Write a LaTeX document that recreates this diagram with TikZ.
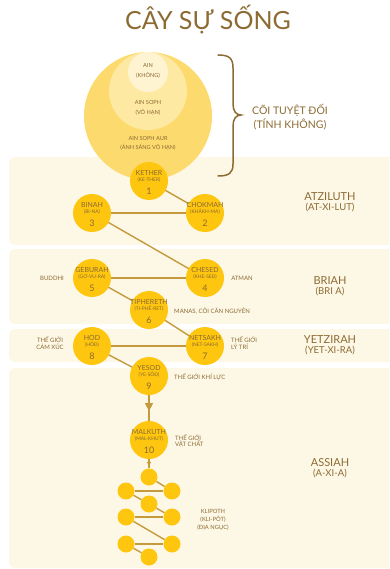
\documentclass[tikz,border=0pt]{standalone}
\usepackage{fontspec}
\setmainfont{Lato}
\usetikzlibrary{arrows.meta,decorations.markings}
\definecolor{gold}{HTML}{FEC60E}
\definecolor{linec}{HTML}{C49A3C}
\definecolor{txt}{HTML}{8C6B33}
\definecolor{bandc}{HTML}{FDF8E6}
\definecolor{outerc}{HTML}{FDDA6E}
\definecolor{midc}{HTML}{FEE9A2}
\definecolor{innerc}{HTML}{FEF4D2}
\tikzset{
  seph/.style={circle,fill=gold,minimum size=38pt,inner sep=0pt},
  klip/.style={circle,fill=gold,minimum size=17pt,inner sep=0pt},
  sname/.style={text=txt,inner sep=0pt,font=\fontsize{7}{8}\selectfont},
  strans/.style={text=txt,inner sep=0pt,font=\fontsize{4.9}{5}\selectfont},
  snum/.style={text=txt,inner sep=0pt,font=\fontsize{9}{10}\selectfont},
  conn/.style={draw=linec,line width=1.4pt},
  side/.style={text=txt,inner sep=0pt,align=center,font=\fontsize{6}{6.6}\selectfont},
  world/.style={text=txt,inner sep=0pt,align=center,font=\fontsize{11}{11}\selectfont},
  worldsub/.style={text=txt,inner sep=0pt,align=center,font=\fontsize{9.5}{10}\selectfont},
  ainlab/.style={text=txt,inner sep=0pt,align=center,font=\fontsize{5.6}{9.5}\selectfont},
  bandbox/.style={fill=bandc,rounded corners=6pt},
  midarrow/.style={postaction={decorate},decoration={markings,mark=at position #1 with {\arrow[linec]{Triangle[length=8pt,width=8pt]}}}},
  smallarrow/.style={postaction={decorate},decoration={markings,mark=at position #1 with {\arrow[linec]{Triangle[length=4pt,width=4pt]}}}}
}
\newcommand\sephira[6]{%
  \node[seph] (#1) at (#2,#3) {};
  \node[sname] (#1n) at (#2,#3-8) {#4};
  \node[strans] (#1t) at (#2,#3-1) {#5};
  \node[snum] (#1d) at (#2,#3+10) {#6};}
\begin{document}
\begin{tikzpicture}[x=1pt,y=-1pt]
\useasboundingbox (0,0) rectangle (389,569);
\clip (0,0) rectangle (389,569);
% bands
\fill[bandbox] (9,157) rectangle (400,245);
\fill[bandbox] (9,249) rectangle (400,324);
\fill[bandbox] (9,329) rectangle (400,362);
\fill[bandbox] (9,368) rectangle (400,568);
% title
\node[text=txt,inner sep=0pt,font=\fontsize{25}{30}\selectfont] (title) at (208,20) {CÂY SỰ SỐNG};
% ain circles
\node[circle,fill=outerc,minimum size=128pt,inner sep=0pt] (aur) at (148,116) {};
\node[circle,fill=midc,minimum size=78pt,inner sep=0pt] (soph) at (148,91) {};
\node[circle,fill=innerc,minimum size=40pt,inner sep=0pt] (ain) at (148,72) {};
\node[ainlab] (ainl) at (148,71) {AIN\\(KHÔNG)};
\node[ainlab] (sophl) at (148,108) {AIN SOPH\\(VÔ HẠN)};
\node[ainlab] (aurl) at (148,143.5) {AIN SOPH AUR\\(ÁNH SÁNG VÔ HẠN)};
% brace
\draw[txt,line width=1.5pt,line cap=round] (218,55) .. controls (229,55) and (233,58) .. (233,68) -- (233,104) .. controls (233,111) and (236,115) .. (241,115) .. controls (236,115) and (233,119) .. (233,126) -- (233,164) .. controls (233,173) and (229,176) .. (218,176);
\node[text=txt,inner sep=0pt,align=center,font=\fontsize{10.5}{14}\selectfont] (absl) at (290,117) {CÕI TUYỆT ĐỐI\\(TÍNH KHÔNG)};
% connectors (drawn first, nodes on top)
\coordinate (pK) at (149,181);
\coordinate (pCh) at (205,213);
\coordinate (pB) at (92,213);
\coordinate (pCs) at (205,278);
\coordinate (pG) at (92,278);
\coordinate (pT) at (149,310);
\coordinate (pH) at (92,346);
\coordinate (pN) at (205,346);
\coordinate (pY) at (149,376);
\draw[conn] (pK) -- (pCh);
\draw[conn] (pB) -- (pCh);
\draw[conn] (pB) -- (pCs);
\draw[conn] (pG) -- (pCs);
\draw[conn] (pG) -- (pT);
\draw[conn] (pT) -- (pN);
\draw[conn] (pH) -- (pN);
\draw[conn] (pH) -- (pY);
% sephirot
\sephira{kether}{149}{181}{KETHER}{(KE-THER)}{1}
\sephira{chokmah}{205}{213}{CHOKMAH}{(KHÂKH-MA)}{2}
\sephira{binah}{92}{213}{BINAH}{(BI-NA)}{3}
\sephira{chesed}{205}{278}{CHESED}{(KHE-SEĐ)}{4}
\sephira{geburah}{92}{278}{GEBURAH}{(GƠ-VU-RA)}{5}
\sephira{tiphereth}{149}{310}{TIPHERETH}{(TI-PHÊ-RET)}{6}
\sephira{netsakh}{205}{346}{NETSAKH}{(NET-SAKH)}{7}
\sephira{hod}{92}{346}{HOD}{(HÔĐ)}{8}
\sephira{yesod}{149}{376}{YESOD}{(YE-SÔĐ)}{9}
\sephira{malkuth}{149}{440}{MALKUTH}{(MAL-KHUT)}{10}
% klipoth
\node[klip] (k1) at (149,477) {};
\node[klip] (k2) at (126,491) {};
\node[klip] (k3) at (172,491) {};
\node[klip] (k4) at (149,504) {};
\node[klip] (k5) at (126,517) {};
\node[klip] (k6) at (172,517) {};
\node[klip] (k7) at (126,544) {};
\node[klip] (k8) at (172,544) {};
\node[klip] (k9) at (149,557) {};
\draw[conn] (k1) -- (k3);
\draw[conn] (k2) -- (k3);
\draw[conn] (k2) -- (k4);
\draw[conn] (k4) -- (k6);
\draw[conn] (k5) -- (k6);
\draw[conn] (k5) -- (k8);
\draw[conn] (k7) -- (k8);
\draw[conn] (k7) -- (k9);
\draw[conn,midarrow=0.62] (yesod) -- (malkuth);
\draw[conn,line width=1.2pt,smallarrow=0.75] (malkuth) -- (k1);
% side labels
\node[side] (buddhi) at (52,278) {BUDDHI};
\node[side] (atman) at (242,278) {ATMAN};
\node[side,anchor=west] (manas) at (174,311) {MANAS, CÕI CĂN NGUYÊN};
\node[side] (camxuc) at (50,343) {THẾ GIỚI\\CẢM XÚC};
\node[side,anchor=west,align=left] (lytri) at (231,343) {THẾ GIỚI\\LÝ TRÍ};
\node[side,anchor=west] (khiluc) at (174,377) {THẾ GIỚI KHÍ LỰC};
\node[side,anchor=west,align=left] (vatchat) at (175,441) {THẾ GIỚI\\VẬT CHẤT};
\node[side,font=\fontsize{5.8}{8}\selectfont] (klipl) at (213,520) {KLIPOTH\\(KLI-PÔT)\\(ĐỊA NGỤC)};
% world labels
\node[world] (atz) at (330,197) {ATZILUTH};
\node[worldsub] (atzs) at (330,207.5) {(AT-XI-LUT)};
\node[world] (bri) at (330,281) {BRIAH};
\node[worldsub] (bris) at (330,292) {(BRI A)};
\node[world] (yet) at (330,340) {YETZIRAH};
\node[worldsub] (yets) at (330,350.5) {(YET-XI-RA)};
\node[world] (ass) at (330,463) {ASSIAH};
\node[worldsub] (asss) at (330,474) {(A-XI-A)};
\end{tikzpicture}
\end{document}
